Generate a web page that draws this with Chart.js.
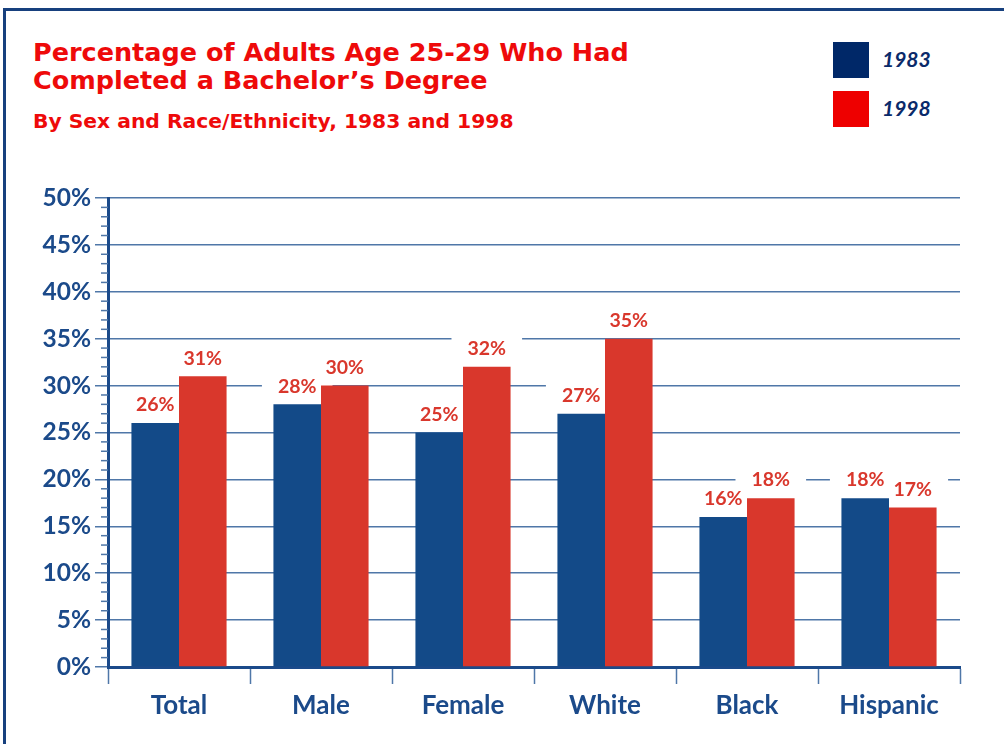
<!DOCTYPE html>
<html>
<head>
<meta charset="utf-8">
<script src="https://cdn.jsdelivr.net/npm/chart.js@4.4.0/dist/chart.umd.min.js"></script>
<style>
  body { margin: 0; background: #fff; font-family: Lato, sans-serif; }
  #wrap { position: relative; width: 1004px; height: 744px; overflow: hidden; }
  #frame { position: absolute; left: 3px; top: 8px; right: 0; bottom: 0;
           border-top: 3px solid #17407e; border-left: 3px solid #17407e; }
  #title { position: absolute; left: 33px; top: 38px; color: #ee0a0a;
           font-family: "DejaVu Sans", sans-serif; font-weight: bold;
           font-size: 25.5px; line-height: 28px; }
  #subtitle { position: absolute; left: 33px; top: 109px; color: #ee0a0a;
              font-family: "DejaVu Sans", sans-serif; font-weight: bold; font-size: 20.3px; }
  .key { position: absolute; left: 833px; width: 36px; height: 36px; }
  .keytext { position: absolute; left: 882px; color: #0a2a6a; font-weight: bold;
             font-style: italic; font-size: 21px; }
  canvas { position: absolute; left: 0; top: 0; }
</style>
</head>
<body>
<div id="wrap">
  <div id="frame"></div>
  <div id="title">Percentage of Adults Age 25-29 Who Had<br>Completed a Bachelor’s Degree</div>
  <div id="subtitle">By Sex and Race/Ethnicity, 1983 and 1998</div>
  <div class="key" style="top:42px;background:#002868"></div>
  <div class="keytext" style="top:46px">1983</div>
  <div class="key" style="top:91px;background:#ee0000"></div>
  <div class="keytext" style="top:95px">1998</div>
  <canvas id="grafico" width="1004" height="744"></canvas>
</div>
<script>
// datos
var categorias = ["Total", "Male", "Female", "White", "Black", "Hispanic"];
var valores1983 = [26, 28, 25, 27, 16, 18];
var valores1998 = [31, 30, 32, 35, 18, 17];

var azul = "#134a88";
var rojo = "#d9372c";
var azulTexto = "#1b4a8a";
var azulGrid = "#4f77a8";

// cajas blancas detras de las etiquetas (tapan la cuadricula)
function etiquetas(chart, soloCaja) {
    var ctx = chart.ctx;
    ctx.save();
    ctx.font = "bold 19.5px Lato";
    ctx.textAlign = "center";
    ctx.textBaseline = "middle";
    chart.data.datasets.forEach(function(ds, i) {
        chart.getDatasetMeta(i).data.forEach(function(bar, j) {
            var txt = ds.data[j] + "%";
            var y = bar.y - 18;
            if (soloCaja) {
                var w = ctx.measureText(txt).width;
                ctx.fillStyle = "#fff";
                ctx.fillRect(bar.x - w / 2 - 16, y - 17, w + 32, 34);
            } else {
                ctx.fillStyle = rojo;
                ctx.fillText(txt, bar.x, y);
            }
        });
    });
    ctx.restore();
}

var pluginEtiquetas = {
    id: "etiquetas",
    beforeDatasetsDraw: function(chart) { etiquetas(chart, true); },
    afterDatasetsDraw: function(chart) { etiquetas(chart, false); }
};

// marcas menores del eje y, cada 1%
var pluginMenores = {
    id: "menores",
    afterDraw: function(chart) {
        var ctx = chart.ctx, y = chart.scales.y, left = chart.chartArea.left;
        ctx.save();
        ctx.strokeStyle = azulGrid;
        ctx.lineWidth = 1.5;
        for (var v = 0; v <= 50; v++) {
            if (v % 5 === 0) continue;
            var py = y.getPixelForValue(v);
            ctx.beginPath();
            ctx.moveTo(left - 7, py);
            ctx.lineTo(left, py);
            ctx.stroke();
        }
        ctx.restore();
    }
};

var grafico = new Chart(document.querySelector("#grafico"), {
    type: "bar",
    data: {
        labels: categorias,
        datasets: [{
            label: "1983",
            data: valores1983,
            backgroundColor: azul,
            categoryPercentage: 0.67,
            barPercentage: 1.0
        }, {
            label: "1998",
            data: valores1998,
            backgroundColor: rojo,
            categoryPercentage: 0.67,
            barPercentage: 1.0
        }]
    },
    options: {
        responsive: false,
        animation: false,
        layout: { padding: { left: 8, top: 198, right: 44, bottom: 17 } },
        plugins: {
            legend: { display: false },
            tooltip: { enabled: false }
        },
        scales: {
            x: {
                afterFit: function(s) { s.height = 60; },
                grid: {
                    offset: true,
                    drawOnChartArea: true,
                    color: function(c) { return c.index === 6 ? "#2a5a9a" : "rgba(0,0,0,0)"; },
                    lineWidth: function(c) { return c.index === 6 ? 2.5 : 1; },
                    tickColor: azulGrid,
                    tickWidth: 1.5,
                    tickLength: 17
                },
                border: { display: true, color: azulTexto, width: 3 },
                ticks: {
                    color: azulTexto,
                    font: { family: "Lato", weight: "bold", size: 26 },
                    padding: 6
                }
            },
            y: {
                min: 0,
                max: 50,
                afterFit: function(s) { s.width = 100; },
                ticks: {
                    stepSize: 5,
                    color: azulTexto,
                    font: { family: "Lato", weight: "bold", size: 24.5 },
                    padding: 4,
                    callback: function(v) { return v + "%"; }
                },
                grid: {
                    color: azulGrid,
                    lineWidth: 1.5,
                    tickLength: 13
                },
                border: { display: true, color: azulTexto, width: 3 }
            }
        }
    },
    plugins: [pluginEtiquetas, pluginMenores]
});
</script>
</body>
</html>
